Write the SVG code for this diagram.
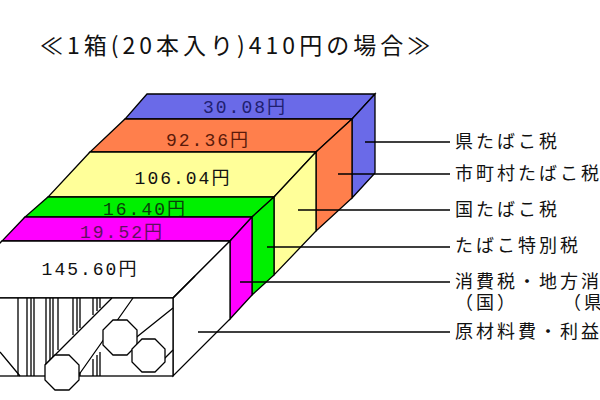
<svg xmlns="http://www.w3.org/2000/svg" width="600" height="400" viewBox="0 0 600 400">
<style>
.s{stroke:#000;stroke-width:1.3;stroke-linejoin:miter}
.t{font-family:"Noto Sans CJK JP","Liberation Sans",sans-serif;font-size:18px;letter-spacing:3px;fill:#111}
.v{font-family:"Liberation Mono","Noto Sans CJK JP",monospace;font-size:18px;letter-spacing:2px;text-anchor:middle}
.l{stroke:#000;stroke-width:1.3;fill:none}
</style>
<rect width="600" height="400" fill="#fff"/>
<text x="40" y="54" class="t" style="font-size:23px;letter-spacing:4px">≪1箱(20本入り)410円の場合≫</text>
<g id="blue" class="s" fill="#6a6ae8">
<polygon points="147,94 375,94 352,119 125,119"/>
<polygon points="375,94 375,173 352,198 352,119"/>
<text x="245" y="113" class="v" fill="#202070" stroke="none">30.08円</text>
</g>
<g id="orange" class="s" fill="#ff7f4c">
<polygon points="125,119 352,119 316,152 90,152"/>
<polygon points="352,119 352,198 316,231 316,152"/>
<text x="208" y="146" class="v" fill="#5a1a0a" stroke="none">92.36円</text>
</g>
<g id="yellow" class="s" fill="#ffff99">
<polygon points="90,152 316,152 274,197 48,197"/>
<polygon points="316,152 316,231 274,275 274,197"/>
<text x="183" y="184" class="v" fill="#111" stroke="none">106.04円</text>
</g>
<g id="green" class="s" fill="#00f000">
<polygon points="48,197 274,197 252,217 25,217"/>
<polygon points="274,197 274,275 252,295 252,217"/>
<text x="145" y="215" class="v" fill="#0a400a" stroke="none">16.40円</text>
</g>
<g id="magenta" class="s" fill="#ff00ff">
<polygon points="25,217 252,217 230,241 2,241"/>
<polygon points="252,217 252,295 230,319 230,241"/>
<text x="122" y="238" class="v" fill="#601060" stroke="none">19.52円</text>
</g>
<g id="white" class="s" fill="#fff">
<polygon points="2,241 230,241 173,298 -55,298"/>
<polygon points="230,241 230,319 173,376 173,298"/>
<rect x="-5" y="298" width="178" height="78"/>
<text x="90" y="275" class="v" fill="#111" stroke="none">145.60円</text>
<g class="l">
<path d="M18,298V376M27,298V376M31,298V376M34,298V376M46,298V376M50,298V376M53,298V376M58,298V350M73,298V335M77,298V331M80,298V328M93,298V315M97,298V311M100,298V308M80,372V376M93,359V376M97,355V376M100,352V376"/>
<path d="M0,352L20,376M45,365L112,298M78,376L133,298M133,340L173,308M155,368L173,350M173,298L195,276"/>
<polygon points="55,355 69,355 79,365 79,380 69,390 55,390 45,380 45,365" fill="#fff"/>
<polygon points="113,320 127,320 137,330 137,345 127,355 113,355 103,345 103,330" fill="#fff"/>
<polygon points="142,339 155,339 165,349 165,362 155,372 142,372 132,362 132,349" fill="#fff"/>
</g>
</g>
<g id="connectors" class="l">
<path d="M365,142H450M338,174H450M298,210H450M267,247H450M240,282H450M198,332H450"/>
</g>
<g id="labels">
<text x="455" y="148" class="t">県たばこ税</text>
<text x="455" y="180" class="t">市町村たばこ税</text>
<text x="455" y="216" class="t">国たばこ税</text>
<text x="455" y="252" class="t">たばこ特別税</text>
<text x="455" y="288" class="t">消費税・地方消費税</text>
<text x="455" y="309" class="t">（国）　　　（県）</text>
<text x="455" y="338" class="t">原材料費・利益等</text>
</g>
</svg>
